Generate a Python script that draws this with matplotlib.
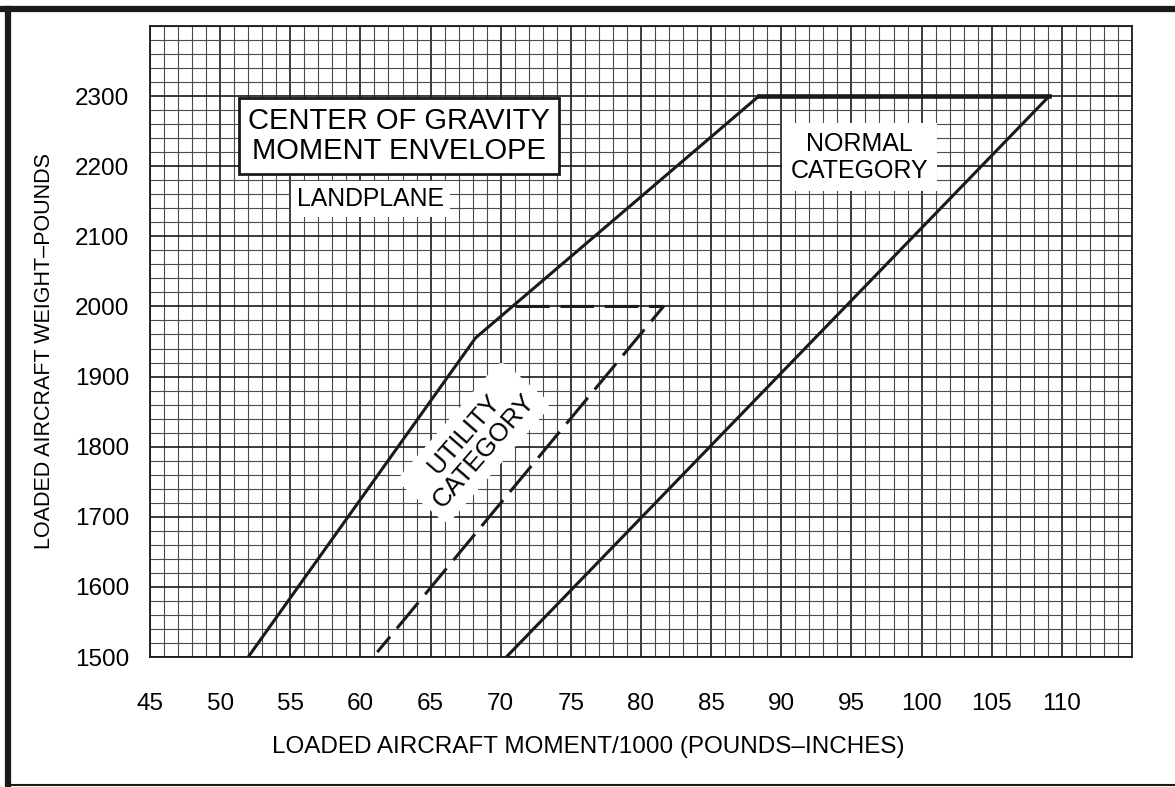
import matplotlib
matplotlib.use("Agg")
import matplotlib.pyplot as plt
from matplotlib.ticker import MultipleLocator
from matplotlib.lines import Line2D

plt.rcParams['font.family'] = ['Liberation Sans', 'DejaVu Sans']

# Envelope corners (moment/1000, weight in lb)
normal_moment = [52.0, 68.2, 88.4, 109.1, 70.4]
normal_weight = [1500, 1955, 2300, 2300, 1500]

utility_moment = [71.1, 81.6, 61.2]
utility_weight = [2000, 2000, 1507]

x_ticks = [45, 50, 55, 60, 65, 70, 75, 80, 85, 90, 95, 100, 105, 110]
y_ticks = [1500, 1600, 1700, 1800, 1900, 2000, 2100, 2200, 2300]

fig = plt.figure(figsize=(11.75, 7.87), dpi=100)
ax = fig.add_axes([150 / 1175, 1 - 657 / 787, 982 / 1175, 631 / 787])

ax.set_xlim(45, 115)
ax.set_ylim(1500, 2400)
ax.set_xticks(x_ticks)
ax.set_yticks(y_ticks)
ax.xaxis.set_minor_locator(MultipleLocator(1))
ax.yaxis.set_minor_locator(MultipleLocator(20))
ax.grid(which='major', color='#1a1a1a', linewidth=1.2, zorder=0)
ax.grid(which='minor', color='#4a4a4a', linewidth=0.8, zorder=0)
ax.set_axisbelow(True)
ax.tick_params(which='both', length=0, labelsize=17.5)
ax.tick_params(axis='x', pad=26)
ax.tick_params(axis='y', pad=15)
for s in ax.spines.values():
    s.set_linewidth(1.3)
    s.set_color('#1a1a1a')

# solid normal category envelope
ax.plot(normal_moment[:3], normal_weight[:3], color='#1a1a1a', lw=2.2,
        solid_joinstyle='miter', zorder=3)
ax.plot(normal_moment[2:4], normal_weight[2:4], color='#1a1a1a', lw=3.3, zorder=3)
ax.plot(normal_moment[3:], normal_weight[3:], color='#1a1a1a', lw=2.2, zorder=3)

# dashed utility category limits
ax.plot(utility_moment, utility_weight, color='#1a1a1a', lw=2.2,
        dashes=(11, 3.5), zorder=3)

# labels inside the chart
ax.text(62.75, 2243, "CENTER OF GRAVITY\nMOMENT ENVELOPE", fontsize=21,
        ha='center', va='center', linespacing=1.1, zorder=5,
        bbox=dict(facecolor='white', edgecolor='#1a1a1a', linewidth=2.0,
                  boxstyle='square,pad=0.3'))
ax.text(60.7, 2153, "LANDPLANE", fontsize=17.8, ha='center', va='center', zorder=5,
        bbox=dict(facecolor='white', edgecolor='none', boxstyle='square,pad=0.25'))
ax.text(95.6, 2213, "NORMAL\nCATEGORY", fontsize=18, ha='center', va='center',
        linespacing=1.15, zorder=5,
        bbox=dict(facecolor='white', edgecolor='none', boxstyle='square,pad=0.35'))
ax.text(68.1, 1806, "UTILITY\nCATEGORY", fontsize=18.5, ha='center', va='center',
        rotation=49, linespacing=1.1, zorder=5,
        bbox=dict(facecolor='white', edgecolor='none', boxstyle='round,pad=0.35'))

ax.set_xlabel("LOADED AIRCRAFT MOMENT/1000 (POUNDS–INCHES)", fontsize=17.5,
              va='top')
ax.xaxis.set_label_coords(0.446, -0.125)
ax.set_ylabel("LOADED AIRCRAFT WEIGHT–POUNDS", fontsize=15.5)
ax.yaxis.set_label_coords(-0.097, 0.485)

# page frame
fig.add_artist(Line2D([0, 1], [0.988, 0.988], transform=fig.transFigure,
                      color='#1a1a1a', lw=4.5))
fig.add_artist(Line2D([0.0068, 0.0068], [0.0025, 0.988], transform=fig.transFigure,
                      color='#1a1a1a', lw=4.5))
fig.add_artist(Line2D([0.0068, 1], [0.0025, 0.0025], transform=fig.transFigure,
                      color='#1a1a1a', lw=1.5))

fig.savefig("out.png", dpi=100)
